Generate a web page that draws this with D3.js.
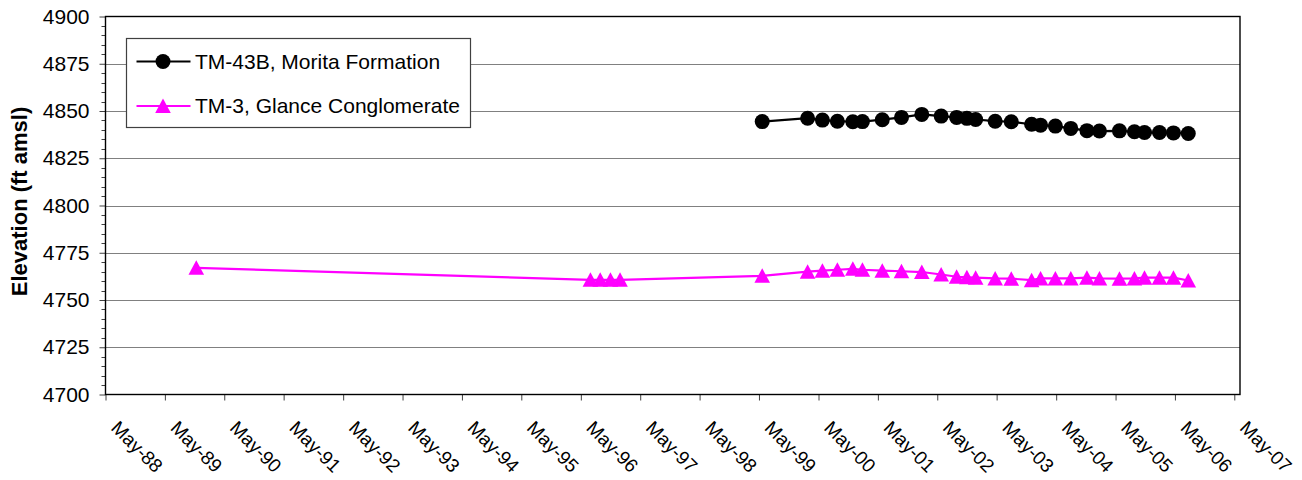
<!DOCTYPE html>
<html><head><meta charset="utf-8">
<script src="https://cdn.jsdelivr.net/npm/d3@7"></script>
<style>
body{margin:0;background:#fff}
text{font-family:"Liberation Sans",Arial,Helvetica,sans-serif;fill:#000}
</style>
</head><body>
<svg id="chart" width="1302" height="480"></svg>
<script>
// ---------------- data ----------------
const tickLabels = ["May-88","May-89","May-90","May-91","May-92","May-93","May-94","May-95","May-96","May-97",
                    "May-98","May-99","May-00","May-01","May-02","May-03","May-04","May-05","May-06","May-07"];
const yTickValues = [4700,4725,4750,4775,4800,4825,4850,4875,4900];
const seriesNames = ["TM-43B, Morita Formation","TM-3, Glance Conglomerate"];

const dates43B = ["1999-05-21","2000-02-24","2000-05-25","2000-08-25","2000-11-28","2001-01-26","2001-05-28","2001-09-23",
                  "2002-01-26","2002-05-25","2002-08-28","2002-10-30","2002-12-23","2003-04-22","2003-07-30","2003-12-02",
                  "2004-01-26","2004-04-26","2004-07-30","2004-11-06","2005-01-22","2005-05-25","2005-08-25","2005-10-26",
                  "2006-01-26","2006-04-22","2006-07-22"];
const elev43B  = [4844.4,4846.2,4845.2,4844.6,4844.3,4844.4,4845.4,4846.6,
                  4848.2,4847.3,4846.6,4846.1,4845.5,4844.6,4844.3,4843.0,
                  4842.5,4842.0,4840.8,4839.6,4839.4,4839.5,4839.0,4838.6,
                  4838.6,4838.4,4838.1];

const dates3 = ["1989-11-10","1996-06-29","1996-08-28","1996-10-30","1996-12-28",
                "1999-05-21","2000-02-24","2000-05-25","2000-08-25","2000-11-28","2001-01-26","2001-05-28","2001-09-23",
                "2002-01-26","2002-05-25","2002-08-28","2002-10-30","2002-12-23","2003-04-22","2003-07-30","2003-12-02",
                "2004-01-26","2004-04-26","2004-07-30","2004-11-06","2005-01-22","2005-05-25","2005-08-25","2005-10-26",
                "2006-01-26","2006-04-22","2006-07-22"];
const elev3  = [4767.0,4760.7,4760.7,4760.7,4760.7,
                4762.8,4765.0,4765.5,4766.0,4766.5,4766.0,4765.5,4765.2,
                4764.8,4763.5,4762.3,4762.0,4761.8,4761.4,4761.3,4760.5,
                4761.4,4761.4,4761.4,4761.8,4761.4,4761.3,4761.4,4761.8,
                4761.8,4761.8,4760.3];

// ---------------- layout ----------------
const L = 105.5, R = 1240, T = 16.5, B = 394.5;
const FONT = 21, XFONT = 19;
const parseD = d3.timeParse("%Y-%m-%d");
const parseTick = d3.timeParse("%b-%y");
const tickDates = tickLabels.map(parseTick);

const x = d3.scaleTime().domain([new Date(1988,4,1), new Date(2007,5,5)]).range([L, R]);
const y = d3.scaleLinear().domain([4700, 4900]).range([B, T]);

const svg = d3.select("#chart");

// grid lines
svg.append("g").selectAll("line")
  .data(yTickValues.filter(v => v > 4700 && v < 4900))
  .join("line")
  .attr("x1", L).attr("x2", R)
  .attr("y1", d => Math.round(y(d)) + 0.5).attr("y2", d => Math.round(y(d)) + 0.5)
  .attr("stroke", "#808080").attr("stroke-width", 1.2);

// minor y ticks
const minorVals = d3.range(4705, 4900, 5).filter(v => v % 25 !== 0);
svg.append("g").selectAll("line").data(minorVals).join("line")
  .attr("x1", L - 4).attr("x2", L)
  .attr("y1", d => Math.round(y(d)) + 0.5).attr("y2", d => Math.round(y(d)) + 0.5)
  .attr("stroke", "#404040").attr("stroke-width", 1);

// y axis
const yAxis = d3.axisLeft(y).tickValues(yTickValues).tickSize(6).tickPadding(10).tickFormat(d3.format("d"));
const gy = svg.append("g").attr("transform", `translate(${L},0)`).call(yAxis);
gy.select(".domain").remove();
gy.selectAll(".tick line").attr("stroke", "#404040");
gy.selectAll(".tick text").style("font-size", FONT + "px").style("font-family", '"Liberation Sans",Arial,sans-serif').attr("fill", "#000");

// x axis
const xAxis = d3.axisBottom(x).tickValues(tickDates).tickSize(6).tickFormat("");
const gx = svg.append("g").attr("transform", `translate(0,${B})`).call(xAxis);
gx.select(".domain").remove();
gx.selectAll(".tick line").attr("stroke", "#404040");

svg.append("g").selectAll("text").data(tickDates).join("text")
  .attr("transform", (d) => `translate(${x(d) + 4.5},${B + 34.5}) rotate(45)`)
  .attr("text-anchor", "start")
  .style("font-size", XFONT + "px")
  .text((d, i) => tickLabels[i]);

// plot frame
svg.append("rect").attr("x", L).attr("y", T).attr("width", R - L).attr("height", B - T)
  .attr("fill", "none").attr("stroke", "#000").attr("stroke-width", 1.4);

// y axis title
svg.append("text")
  .attr("transform", `translate(27,${(T + B) / 2 - 4}) rotate(-90)`)
  .attr("text-anchor", "middle")
  .style("font-size", "22px").style("font-weight", "bold")
  .text("Elevation (ft amsl)");

// series
const triPath = "M0,-7.5 L7.8,7 L-7.8,7 Z";
const s1 = dates43B.map((d, i) => ({date: parseD(d), v: elev43B[i]}));
const s2 = dates3.map((d, i) => ({date: parseD(d), v: elev3[i]}));
const line = d3.line().x(d => x(d.date)).y(d => y(d.v));

svg.append("path").datum(s2).attr("d", line).attr("fill", "none").attr("stroke", "#FF00FF").attr("stroke-width", 2.2);
svg.append("g").selectAll("path").data(s2).join("path")
  .attr("transform", d => `translate(${x(d.date)},${y(d.v)})`)
  .attr("d", triPath).attr("fill", "#FF00FF");

svg.append("path").datum(s1).attr("d", line).attr("fill", "none").attr("stroke", "#000").attr("stroke-width", 2.2);
svg.append("g").selectAll("circle").data(s1).join("circle")
  .attr("cx", d => x(d.date)).attr("cy", d => y(d.v)).attr("r", 7.5).attr("fill", "#000");

// legend
const lg = svg.append("g");
lg.append("rect").attr("x", 126.5).attr("y", 38.5).attr("width", 344).attr("height", 89)
  .attr("fill", "#fff").attr("stroke", "#404040").attr("stroke-width", 1.2);
const rows = [{name: seriesNames[0], color: "#000", shape: "circle", yy: 61.5},
              {name: seriesNames[1], color: "#FF00FF", shape: "tri", yy: 106}];
rows.forEach(r => {
  lg.append("line").attr("x1", 136.5).attr("x2", 190.5).attr("y1", r.yy).attr("y2", r.yy)
    .attr("stroke", r.color).attr("stroke-width", 2.2);
  if (r.shape === "circle") {
    lg.append("circle").attr("cx", 163).attr("cy", r.yy).attr("r", 7.5).attr("fill", r.color);
  } else {
    lg.append("path").attr("transform", `translate(163,${r.yy})`).attr("d", triPath).attr("fill", r.color);
  }
  lg.append("text").attr("x", 195).attr("y", r.yy).attr("dy", "0.35em")
    .style("font-size", FONT + "px").text(r.name);
});
</script>
</body></html>
